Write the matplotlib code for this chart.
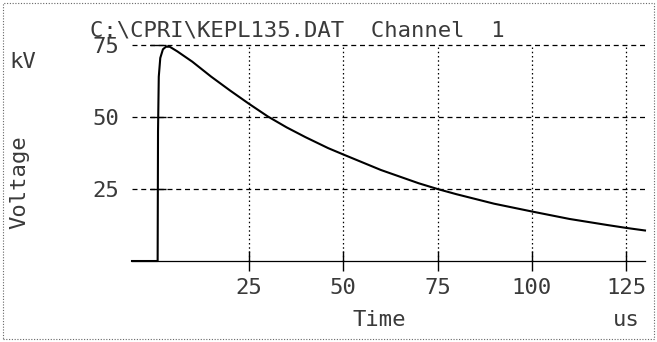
import matplotlib
matplotlib.use("Agg")
import matplotlib.pyplot as plt
from matplotlib.patches import Rectangle

# impulse trace (time in us, voltage in kV)
time_us = [-6.0, 0.8, 0.9, 1.1, 1.5, 2.2, 3.0, 4.0, 6.0, 8.0, 10.0, 15.0, 20.0,
           25.0, 30.0, 35.0, 40.0, 46.0, 50.0, 60.0, 70.0, 75.0, 80.0, 90.0,
           100.0, 110.0, 120.0, 125.0, 130.0]
volt_kv = [0.0, 0.0, 45.0, 64.0, 70.5, 73.5, 74.4, 74.4, 72.8, 71.0, 69.2, 64.0,
           59.2, 54.6, 50.2, 46.4, 43.0, 39.2, 37.0, 31.6, 27.0, 25.0, 23.2,
           19.9, 17.2, 14.6, 12.5, 11.5, 10.6]

x_ticks = [25, 50, 75, 100, 125]
y_ticks = [25, 50, 75]

title_txt = "C:\\CPRI\\KEPL135.DAT  Channel  1"

mono = "DejaVu Sans Mono"
txt_color = "#3a3a3a"
fs = 16

fig = plt.figure(figsize=(6.57, 3.42), dpi=100)
ax = fig.add_axes([0.2009, 0.2368, 0.7808, 0.6316])

ax.plot(time_us, volt_kv, color="black", lw=1.5, solid_joinstyle="round",
        clip_on=False, zorder=3)
ax.axhline(0, color="black", lw=0.9, clip_on=False)

# grid: vertical dotted, horizontal dashed
for xv in x_ticks:
    ax.axvline(xv, color="black", lw=0.9, linestyle=(0, (1.2, 2.2)))
for yv in y_ticks:
    ax.axhline(yv, color="black", lw=0.9, linestyle=(0, (4, 3)), clip_on=False)

ax.set_xlim(-6, 130)
ax.set_ylim(0, 75)

for s in ["top", "right", "left", "bottom"]:
    ax.spines[s].set_visible(False)
ax.spines["left"].set_position(("data", 0.8))
ax.spines["bottom"].set_position(("data", 0))

ax.set_xticks(x_ticks)
ax.set_yticks(y_ticks)
ax.tick_params(axis="x", direction="inout", length=14, width=1, pad=5,
               labelsize=fs, labelcolor=txt_color)
ax.tick_params(axis="y", direction="inout", length=12, width=1, pad=22,
               labelsize=fs, labelcolor=txt_color)
for lab in ax.get_xticklabels() + ax.get_yticklabels():
    lab.set_family(mono)

fig.text(0.137, 0.912, title_txt, family=mono, fontsize=fs, color=txt_color,
         ha="left", va="center")
fig.text(0.015, 0.819, "kV", family=mono, fontsize=fs, color=txt_color,
         ha="left", va="center")
fig.text(0.030, 0.468, "Voltage", family=mono, fontsize=fs, color=txt_color,
         ha="center", va="center", rotation=90)
fig.text(0.578, 0.064, "Time", family=mono, fontsize=fs, color=txt_color,
         ha="center", va="center")
fig.text(0.953, 0.064, "us", family=mono, fontsize=fs, color=txt_color,
         ha="center", va="center")

# dotted frame around the printout
fig.patches.append(Rectangle((0.005, 0.008), 0.99, 0.984, transform=fig.transFigure,
                             fill=False, lw=0.8, linestyle=(0, (1, 1.5)),
                             edgecolor="#666666"))

fig.savefig("out.png", dpi=100)
